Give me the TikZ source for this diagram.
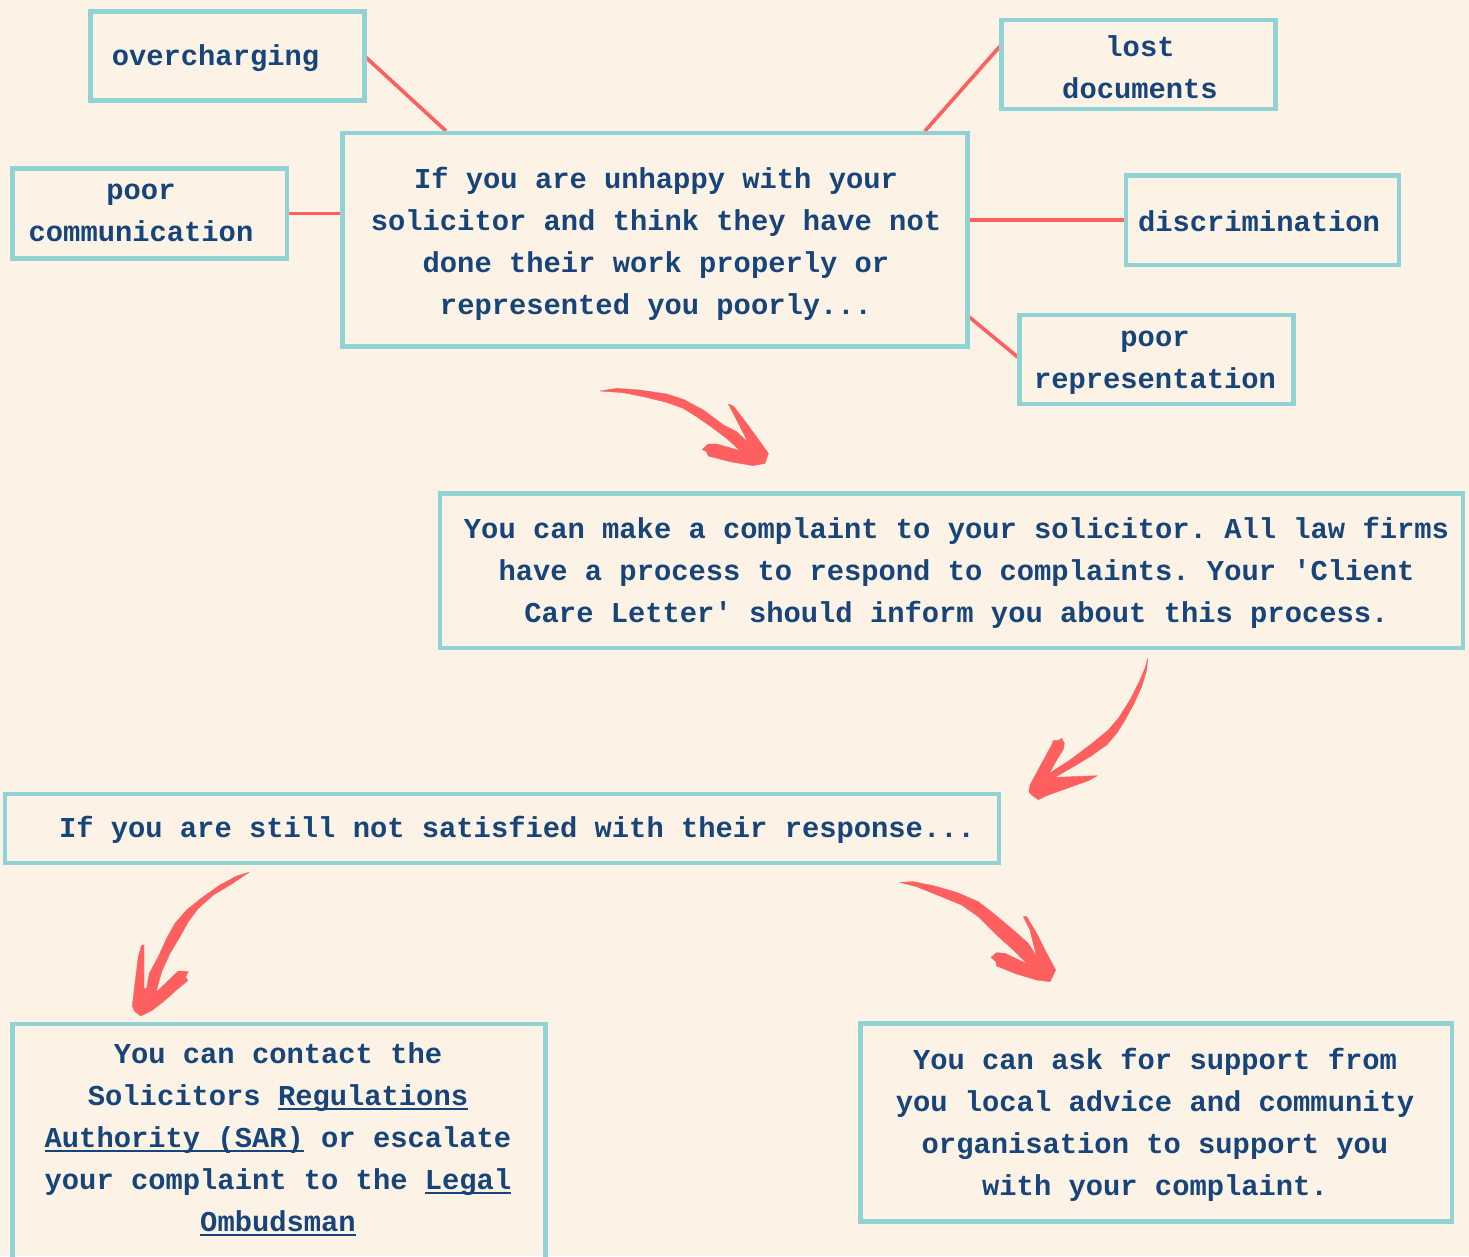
\documentclass[tikz,border=0pt]{standalone}
\usepackage{fontspec}
\setmonofont{Liberation Mono}
\usetikzlibrary{backgrounds}
\definecolor{paper}{HTML}{FCF3E6}
\definecolor{teal}{HTML}{91D3D4}
\definecolor{coral}{HTML}{FF5F5F}
\definecolor{navy}{HTML}{174479}
\newcommand{\ulk}[1]{{\setbox0\hbox{#1}\rlap{\rule[-3.2pt]{\wd0}{1.5pt}}\box0}}
\tikzset{
  infobox/.style={draw=teal,line width=3.4pt,inner sep=0pt,outer sep=0pt},
  txt/.style={text=navy,align=center,inner sep=0pt,font=\fontsize{21.6}{31.5}\selectfont\ttfamily\bfseries},
  link/.style={draw=coral,line width=2.7pt},
  brush/.style={fill=coral,draw=coral,line width=0.3pt,line join=round}
}
\newcommand{\boxat}[5]{\node[infobox,minimum width=#3*0.75pt,minimum height=#4*0.75pt] (#5) at (#1,#2) {};}
\begin{document}
\begin{tikzpicture}[x=0.75pt,y=-0.75pt]
\useasboundingbox (0,0) rectangle (1469,1256);
\clip (0,0) rectangle (1469,1256);
\begin{scope}[on background layer]
\fill[paper] (0,0) rectangle (1469,1256);
\end{scope}
% boxes
\boxat{227.25}{55.75}{274}{89}{A}
\boxat{149.75}{213.5}{274.5}{90}{B}
\boxat{655}{239.75}{625}{213.5}{C}
\boxat{1138.5}{64.5}{274}{89}{D}
\boxat{1262.5}{220.25}{273}{89.5}{E}
\boxat{1156.5}{359.5}{274}{89}{F}
\boxat{951.5}{570.75}{1023}{154.5}{G}
\boxat{502}{828.5}{994}{69}{H}
\boxat{279.25}{1147}{533}{246}{I}
\boxat{1156.25}{1122.5}{591}{197.5}{J}
% texts
\node[txt] (tA) at (215.5,58) {overcharging};
\node[txt] (tB) at (141,213) {poor\\communication};
\node[txt] (tC) at (656,243.5) {If you are unhappy with your\\solicitor and think they have not\\done their work properly or\\represented you poorly...};
\node[txt] (tD) at (1140,67) {lost\\documents};
\node[txt] (tE) at (1259,221) {discrimination};
\node[txt] (tF) at (1155,363) {poor\\representation};
\node[txt] (tG) at (956.5,572.5) {You can make a complaint to your solicitor. All law firms\\have a process to respond to complaints. Your 'Client\\Care Letter' should inform you about this process.};
\node[txt] (tH) at (517,829.5) {If you are still not satisfied with their response...};
\node[txt] (tI) at (278,1139.5) {You can contact the\\Solicitors \ulk{Regulations}\\\ulk{Authority (SAR)} or escalate\\your complaint to the \ulk{Legal}\\\ulk{Ombudsman}};
\node[txt] (tJ) at (1155,1124.5) {You can ask for support from\\you local advice and community\\organisation to support you\\with your complaint.};
% connectors
\coordinate (c1) at (446,131);
\coordinate (c2) at (925,131);
\coordinate (c3) at (968,316);
\coordinate (d1) at (1002,44);
\coordinate (f1) at (1020,359);
\begin{scope}[on background layer]
\draw[link] (A.east) -- (c1);
\draw[link] (B.east) -- (B.east -| C.west);
\draw[link] (d1) -- (c2);
\draw[link] (E.west) -- (E.west -| C.east);
\draw[link] (f1) -- (c3);
\end{scope}
% brush arrows, traced from the 3x crops
\begin{scope}[shift={(580,370)},x=0.25pt,y=-0.25pt]
\filldraw[brush] (60,63)--(110,55)--(180,60)--(260,72)--(310,88)--(370,120)--(430,165)--(470,185)--(505,218)--(470,150)--(445,102)--(460,108)--(500,160)--(565,250)--(555,280)--(520,287)--(450,275)--(385,258)--(380,245)--(367,238)--(385,222)--(410,222)--(480,242)--(440,205)--(400,175)--(350,140)--(310,115)--(260,97)--(200,82)--(130,68)--cycle;
\end{scope}
\begin{scope}[shift={(1010,650)},x=0.25pt,y=-0.25pt]
\filldraw[brush] (413,25)--(410,60)--(395,110)--(370,165)--(345,210)--(320,250)--(290,285)--(240,320)--(190,350)--(135,382)--(262,377)--(235,392)--(190,408)--(110,437)--(85,449)--(65,435)--(57,425)--(60,405)--(95,340)--(125,285)--(130,272)--(145,272)--(155,265)--(163,280)--(160,298)--(140,330)--(118,370)--(180,330)--(240,285)--(295,240)--(325,205)--(360,150)--(390,90)--(405,55)--cycle;
\end{scope}
\begin{scope}[shift={(120,860)},x=0.25pt,y=-0.25pt]
\filldraw[brush] (387,37)--(330,75)--(280,105)--(235,145)--(205,185)--(180,230)--(150,280)--(125,335)--(108,397)--(145,362)--(175,333)--(205,335)--(197,350)--(203,362)--(175,385)--(130,425)--(95,452)--(62,468)--(45,455)--(37,438)--(45,370)--(55,290)--(65,255)--(72,255)--(72,310)--(72,385)--(80,385)--(88,340)--(115,290)--(140,235)--(165,190)--(200,150)--(250,110)--(300,75)--(350,48)--cycle;
\end{scope}
\begin{scope}[shift={(890,870)},x=0.25pt,y=-0.25pt]
\filldraw[brush] (30,37)--(70,35)--(130,47)--(200,67)--(265,95)--(310,130)--(370,180)--(415,220)--(440,260)--(420,180)--(400,140)--(410,140)--(440,190)--(470,250)--(497,300)--(480,335)--(440,330)--(380,312)--(320,288)--(318,275)--(303,262)--(320,248)--(345,250)--(412,282)--(370,240)--(320,195)--(265,140)--(215,105)--(130,70)--(80,50)--cycle;
\end{scope}
\end{tikzpicture}
\end{document}
